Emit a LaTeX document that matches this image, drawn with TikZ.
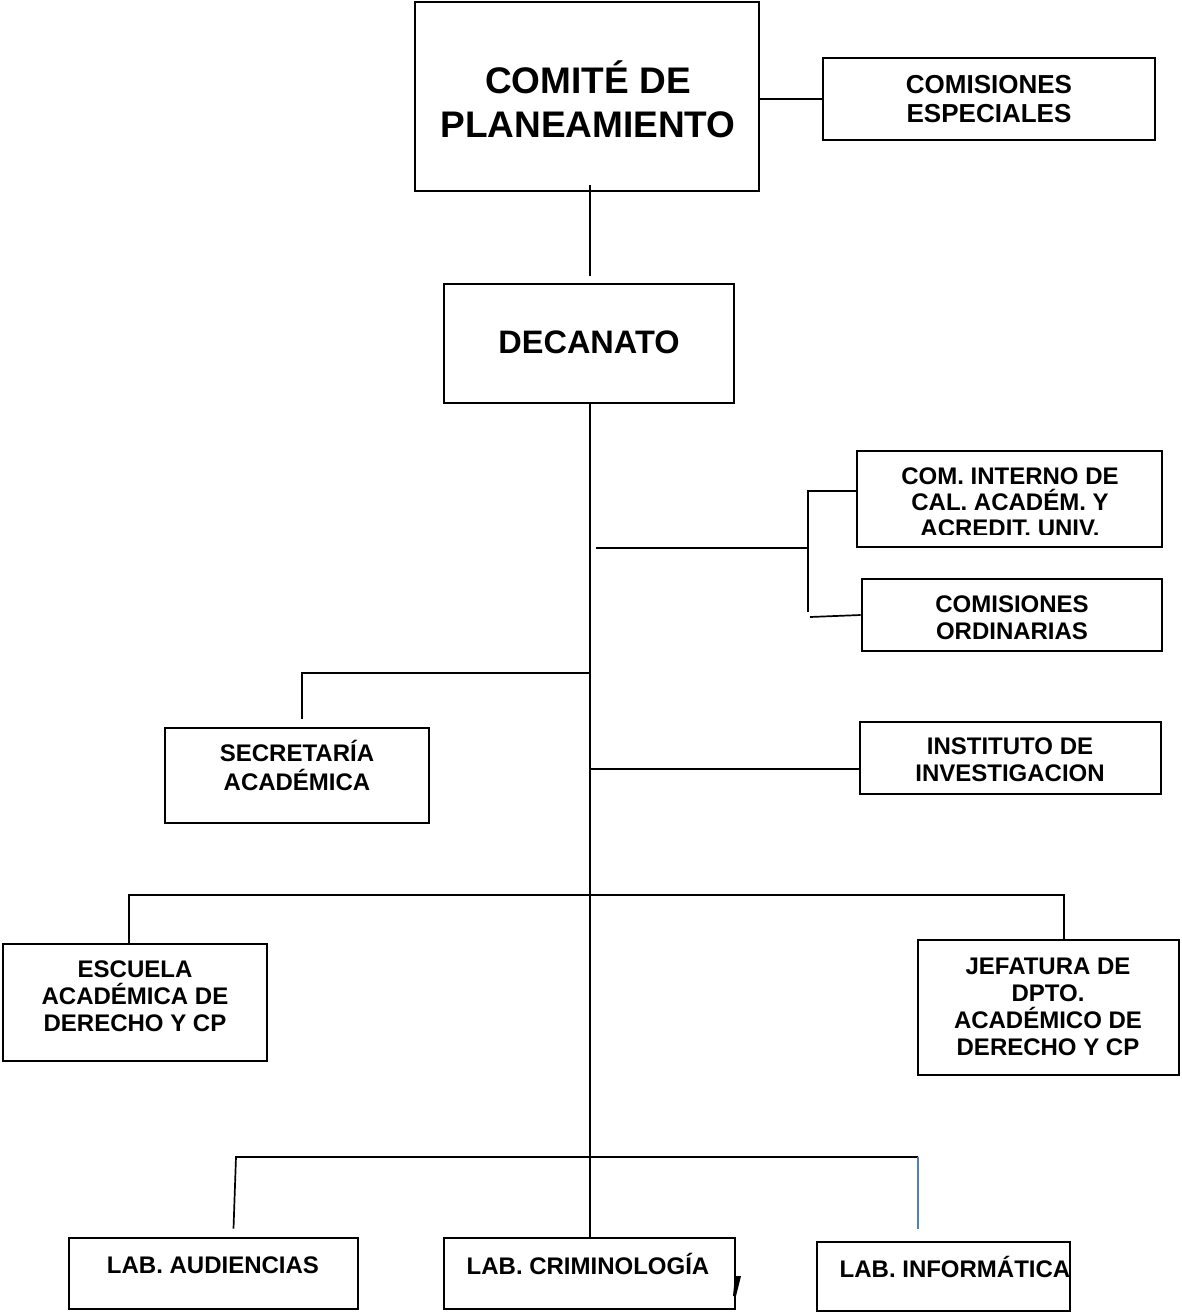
\documentclass[tikz,border=0pt]{standalone}
\usepackage{fontspec}
\setmainfont{Liberation Sans}
\definecolor{linkblue}{RGB}{79,129,189}
\begin{document}
\begin{tikzpicture}[x=1pt,y=-1pt,
  box/.style={draw=black,line width=2.6pt,inner sep=0pt,rectangle},
  txt/.style={align=center,inner sep=0pt,font=\bfseries\fontsize{24}{27}\selectfont},
  bigtxt/.style={align=center,inner sep=0pt,font=\bfseries\fontsize{37}{44}\selectfont},
  conn/.style={draw=black,line width=1.7pt},
  blueconn/.style={draw=linkblue,line width=1.4pt}]
\useasboundingbox[fill=white] (0,0) rectangle (1181,1314);
% boxes
\node[box,minimum width=344pt,minimum height=189pt] (comite) at (587,96.5) {};
\node[box,minimum width=332pt,minimum height=82pt] (comesp) at (989,99) {};
\node[box,minimum width=290pt,minimum height=119pt] (decanato) at (589,343.5) {};
\node[box,minimum width=305pt,minimum height=96pt] (cominterno) at (1009.5,499) {};
\node[box,minimum width=300pt,minimum height=72pt] (comord) at (1012,615) {};
\node[box,minimum width=264pt,minimum height=95pt] (secret) at (297,775.5) {};
\node[box,minimum width=301pt,minimum height=72pt] (instit) at (1010.5,758) {};
\node[box,minimum width=264pt,minimum height=117pt] (escuela) at (135,1002.5) {};
\node[box,minimum width=261pt,minimum height=135pt] (jefatura) at (1048.5,1007.5) {};
\node[box,minimum width=289pt,minimum height=71pt] (labaud) at (213.5,1273.5) {};
\node[box,minimum width=291pt,minimum height=71pt] (labcrim) at (589.5,1273.5) {};
\node[box,minimum width=253pt,minimum height=69pt] (labinf) at (943.5,1276.5) {};
% texts
\node[bigtxt] (comiteT) at (588,99) {COMITÉ DE\\PLANEAMIENTO};
\node[txt,font=\bfseries\fontsize{26}{29}\selectfont] (comespT) at (989,99.5) {COMISIONES\\ESPECIALES};
\node[txt,font=\bfseries\fontsize{32.5}{36}\selectfont] (decanatoT) at (589,342) {DECANATO};
\begin{scope}
\clip (857,451) rectangle (1162,534.5);
\node[txt,font=\bfseries\fontsize{24}{26}\selectfont] (cominternoT) at (1010,502) {COM. INTERNO DE\\CAL. ACADÉM. Y\\ACREDIT. UNIV.};
\end{scope}
\node[txt] (comordT) at (1012,617.5) {COMISIONES\\ORDINARIAS};
\node[txt,font=\bfseries\fontsize{24}{29}\selectfont] (secretT) at (297,765.5) {SECRETARÍA\\ACADÉMICA};
\node[txt] (institT) at (1010,759.5) {INSTITUTO DE\\INVESTIGACION};
\node[txt] (escuelaT) at (135,996) {ESCUELA\\ACADÉMICA DE\\DERECHO Y CP};
\node[txt] (jefaturaT) at (1048,1007) {JEFATURA DE\\DPTO.\\ACADÉMICO DE\\DERECHO Y CP};
\node[txt] (labaudT) at (213,1265) {LAB. AUDIENCIAS};
\node[txt] (labcrimT) at (588,1264) {LAB. CRIMINOLOGÍA};
\node[txt] (labinfT) at (955,1267) {LAB. INFORMÁTICA};
% connectors
\draw[conn] ([xshift=-2pt]comesp.west -| comite.east) -- (comesp.west);
\draw[conn] ([xshift=3pt,yshift=7pt]comite.south) -- ([xshift=1pt,yshift=7pt]decanato.north);
\draw[conn] ([xshift=1pt]decanato.south) -- ([xshift=1pt]decanato.south |- labcrim.north);
% bracket to committees
\coordinate (jstart) at (596,548);
\coordinate (jmid) at (808,548);
\draw[conn] (jstart) -- (jmid);
\draw[conn] (808,490) -- (808,612);
\draw[conn] (808,491) -- ([yshift=8pt]cominterno.west);
\draw[conn] (810,617) -- (comord.west);
% secretaria
\coordinate (sj) at (590,673);
\draw[conn] (sj) -| ([xshift=5pt,yshift=8pt]secret.north);
% instituto
\coordinate (ij) at (590,769);
\draw[conn] (ij) -- ([yshift=-11pt]instit.west);
% escuela / jefatura
\draw[conn] ([xshift=-6pt]escuela.north) -- ++(0,-48) -| ([xshift=15.5pt]jefatura.north);
% labs
\coordinate (hl) at (236,1157);
\coordinate (hr) at (918,1157);
\draw[conn] ([xshift=20pt,yshift=8pt]labaud.north) -- (hl) -- (hr);
\draw[blueconn] (hr) -- ([xshift=-25.5pt,yshift=12pt]labinf.north);
% stray mark
\fill (735,1276) -- (741,1276) -- (736,1296) -- (733,1296) -- cycle;
\end{tikzpicture}
\end{document}
